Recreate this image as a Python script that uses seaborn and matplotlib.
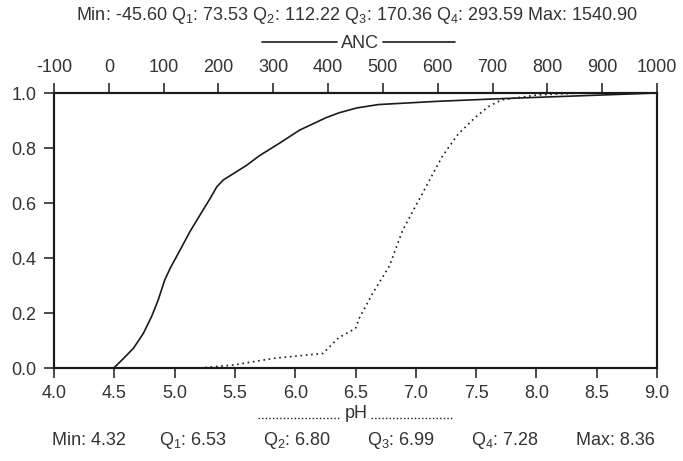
import matplotlib
matplotlib.use("Agg")
import matplotlib.pyplot as plt
from matplotlib.lines import Line2D
import seaborn as sns
import pandas as pd

# ---- data ----
anc_values = [9, 27, 45, 63, 78, 90, 102, 112, 130, 148, 172, 185, 197, 209,
              233, 252, 274, 311, 348, 396, 420, 453, 492, 602, 723, 903, 1000]
anc_cdf = [0.0, 0.035, 0.072, 0.126, 0.187, 0.247, 0.32, 0.363, 0.429, 0.496,
           0.575, 0.617, 0.659, 0.684, 0.714, 0.738, 0.771, 0.817, 0.865, 0.910,
           0.928, 0.946, 0.958, 0.970, 0.980, 0.993, 1.0]

ph_values = [5.21, 5.49, 5.82, 6.23, 6.36, 6.50, 6.53, 6.64, 6.78, 6.89, 7.00,
             7.11, 7.22, 7.35, 7.49, 7.60, 7.71, 8.01, 8.36]
ph_cdf = [0.0, 0.011, 0.035, 0.053, 0.11, 0.144, 0.18, 0.27, 0.37, 0.50, 0.59,
          0.68, 0.77, 0.85, 0.91, 0.95, 0.975, 0.993, 1.0]

ph_ticks = [4.0, 4.5, 5.0, 5.5, 6.0, 6.5, 7.0, 7.5, 8.0, 8.5, 9.0]
anc_ticks = [-100, 0, 100, 200, 300, 400, 500, 600, 700, 800, 900, 1000]
y_ticks = [0.0, 0.2, 0.4, 0.6, 0.8, 1.0]

anc_stats_title = "Min: -45.60 Q$_1$: 73.53 Q$_2$: 112.22 Q$_3$: 170.36 Q$_4$: 293.59 Max: 1540.90"
ph_stats = ["Min: 4.32", "Q$_1$: 6.53", "Q$_2$: 6.80", "Q$_3$: 6.99", "Q$_4$: 7.28", "Max: 8.36"]

# ---- style ----
sns.set_style("ticks")
plt.rcParams["font.family"] = ["Liberation Sans", "DejaVu Sans"]
plt.rcParams["mathtext.default"] = "regular"
TXT = "#333333"
LINE = "#1a1a1a"
FS = 13

W, H = 683, 461
fig = plt.figure(figsize=(W / 100, H / 100), dpi=100)
L, R, T, B = 54, 657, 93, 368
ax = fig.add_axes([L / W, 1 - B / H, (R - L) / W, (B - T) / H])

ph_df = pd.DataFrame({"pH": ph_values, "cdf": ph_cdf})
anc_df = pd.DataFrame({"ANC": anc_values, "cdf": anc_cdf})

sns.lineplot(data=ph_df, x="pH", y="cdf", ax=ax, color=LINE,
             linestyle=(0, (1, 2.2)), linewidth=1.2, estimator=None)
ax.set_xlim(4.0, 9.0)
ax.set_ylim(0.0, 1.0)
ax.set_xticks(ph_ticks)
ax.set_xticklabels([f"{t:.1f}" for t in ph_ticks])
ax.set_yticks(y_ticks)
ax.set_yticklabels([f"{t:.1f}" for t in y_ticks])
ax.set_xlabel("")
ax.set_ylabel("")

ax2 = ax.twiny()
sns.lineplot(data=anc_df, x="ANC", y="cdf", ax=ax2, color=LINE,
             linewidth=1.2, estimator=None)
ax2.set_xlim(-100, 1000)
ax2.set_xticks(anc_ticks)
ax2.set_xticklabels([str(t) for t in anc_ticks])
ax2.set_xlabel("")
ax2.set_ylabel("")

for a in (ax, ax2):
    for s in a.spines.values():
        s.set_visible(True)
        s.set_linewidth(1.5)
        s.set_color(LINE)

ax.tick_params(axis="x", which="both", bottom=True, top=False, direction="out",
               length=7, width=1.1, pad=5, labelsize=FS, colors=LINE, labelcolor=TXT)
ax.tick_params(axis="y", which="both", left=True, right=False, direction="out",
               length=7, width=1.1, pad=5.5, labelsize=FS, colors=LINE, labelcolor=TXT)
ax2.tick_params(axis="x", which="both", top=True, bottom=False, labeltop=True,
                labelbottom=False, direction="out", length=7, width=1.1, pad=5,
                labelsize=FS, colors=LINE, labelcolor=TXT)

# ---- texts ----
def fx(px):
    return px / W

def fy(py):
    return 1 - py / H

fig.text(fx(357), fy(15), anc_stats_title, ha="center", va="center",
         fontsize=FS, color=TXT)

# ANC key
fig.text(fx(360), fy(43), "ANC", ha="center", va="center", fontsize=FS, color=TXT)
fig.add_artist(Line2D([fx(262), fx(337)], [fy(42), fy(42)], color=LINE, lw=1.2))
fig.add_artist(Line2D([fx(383), fx(455)], [fy(42), fy(42)], color=LINE, lw=1.2))

# pH key
fig.text(fx(356), fy(413), "pH", ha="center", va="center", fontsize=FS, color=TXT)
fig.add_artist(Line2D([fx(258), fx(340)], [fy(418), fy(418)], color=LINE, lw=1.0,
                      linestyle=(0, (1, 1.6))))
fig.add_artist(Line2D([fx(371), fx(453)], [fy(418), fy(418)], color=LINE, lw=1.0,
                      linestyle=(0, (1, 1.6))))

stat_x = [89, 193, 297, 401, 505, 615]
for x, s in zip(stat_x, ph_stats):
    fig.text(fx(x), fy(440), s, ha="center", va="center", fontsize=FS, color=TXT)

fig.savefig("out.png", dpi=100, facecolor="white")
